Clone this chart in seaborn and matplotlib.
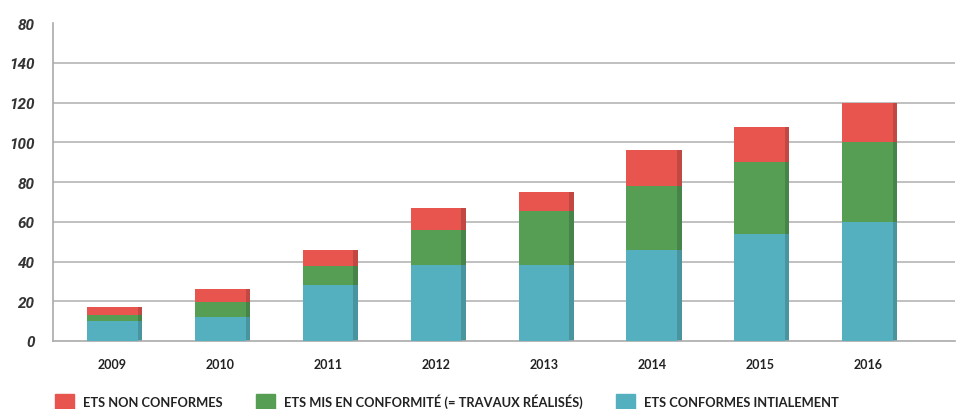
import matplotlib
matplotlib.use("Agg")
import numpy as np
import pandas as pd
import seaborn as sns
import matplotlib.pyplot as plt
from matplotlib.patches import Patch

years = ["2009", "2010", "2011", "2012", "2013", "2014", "2015", "2016"]
conformes_init = [10, 12, 28, 38, 38, 46, 54, 60]
mis_en_conf = [3, 7.5, 9.5, 18, 27.5, 32, 36, 40]
non_conformes = [4, 6.5, 8.5, 11, 9.5, 18, 17.5, 20]

ytick_vals = [0, 20, 40, 60, 80, 100, 120, 140, 160]
ytick_labels = ["0", "20", "40", "60", "80", "100", "120", "140", "80"]

labels = ["ETS NON CONFORMES", "ETS MIS EN CONFORMITÉ (= TRAVAUX RÉALISÉS)",
          "ETS CONFORMES INTIALEMENT"]
colors = ["#E8554E", "#559E54", "#54B0BE"]
shadows = ["#C24843", "#47844A", "#4895A0"]

df = pd.DataFrame({"year": years,
                   "teal": conformes_init,
                   "green": np.add(conformes_init, mis_en_conf),
                   "red": np.add(np.add(conformes_init, mis_en_conf), non_conformes)})

sns.set_style("white")
fig = plt.figure(figsize=(9.7, 4.1), dpi=100)
ax = fig.add_axes([0.0546, 0.166, 0.93, 0.775])

w = 0.47
x = np.arange(len(years))
# small shadow on the right side of each bar
for col, sh in zip(["red", "green", "teal"], shadows):
    ax.bar(x + 0.04, df[col], width=w, color=sh, zorder=2, linewidth=0)
for col, c in zip(["red", "green", "teal"], colors):
    sns.barplot(data=df, x="year", y=col, color=c, width=w, ax=ax,
                saturation=1, zorder=3, linewidth=0)

ax.set_xlim(-0.55, 7.81)
ax.set_ylim(0, 160)
ax.set_yticks(ytick_vals)
ax.set_yticklabels(ytick_labels, fontfamily="Roboto", fontweight="bold",
                   fontstyle="italic", fontsize=11, color="#333333")
for t in ax.get_xticklabels():
    t.set_fontfamily("Lato")
    t.set_fontweight("bold")
    t.set_fontsize(9)
    t.set_color("#222222")
ax.set_xlabel("")
ax.set_ylabel("")
for v in ytick_vals[1:-1]:
    ax.axhline(v, color="#bbbbbb", lw=1.3, zorder=1)
for s in ["top", "right"]:
    ax.spines[s].set_visible(False)
ax.spines["left"].set_color("#aaaaaa")
ax.spines["bottom"].set_color("#aaaaaa")
ax.spines["left"].set_linewidth(1.2)
ax.spines["bottom"].set_linewidth(1.2)
ax.tick_params(axis="y", direction="in", length=5, color="#aaaaaa", pad=13)
ax.tick_params(axis="x", length=0, pad=12)

handles = [Patch(color=c, label=l) for c, l in zip(colors, labels)]
fig.legend(handles=handles, loc="lower left", bbox_to_anchor=(0.045, -0.03),
           ncol=3, frameon=False, handlelength=1.45, handleheight=1.45,
           handletextpad=0.7, columnspacing=2.6,
           prop={"family": "Lato", "weight": "bold", "size": 9.3})
for t in fig.legends[0].get_texts():
    t.set_color("#222222")

fig.savefig("out.png", dpi=100)
